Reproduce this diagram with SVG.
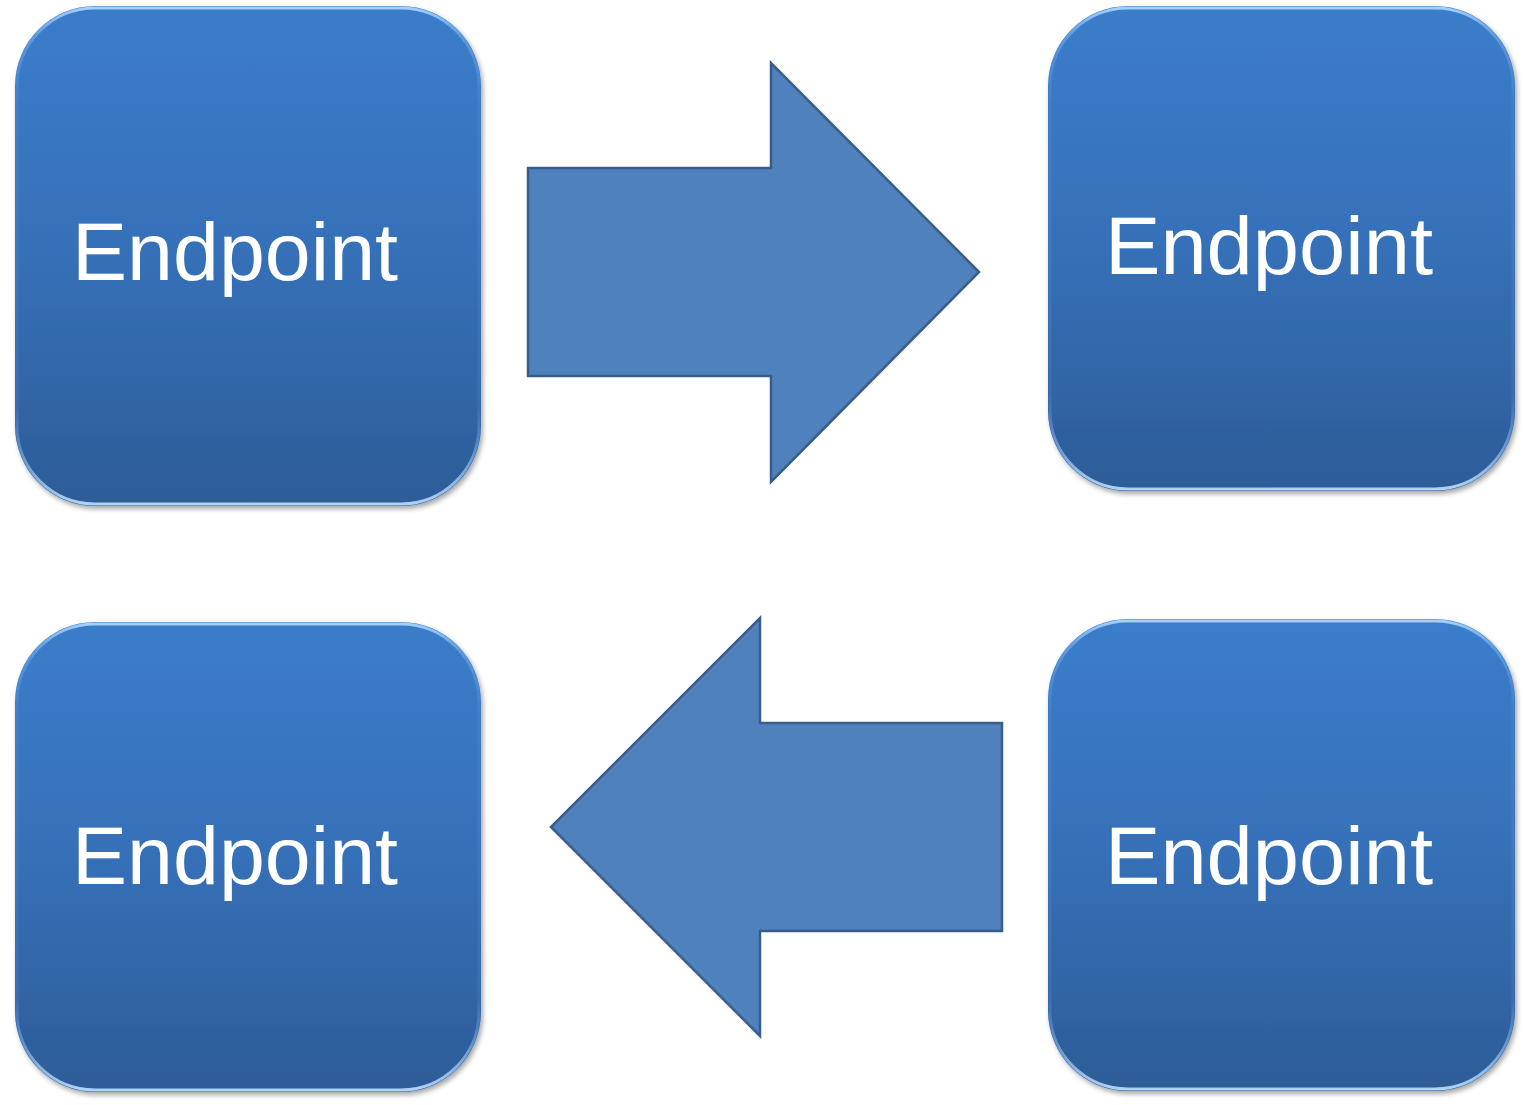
<svg xmlns="http://www.w3.org/2000/svg" width="1524" height="1105" viewBox="0 0 1524 1105">
  <defs>
    <linearGradient id="boxFill" x1="0" y1="0" x2="0" y2="1">
      <stop offset="0" stop-color="#3B7DCB"/>
      <stop offset="0.5" stop-color="#3670B8"/>
      <stop offset="1" stop-color="#2D5C97"/>
    </linearGradient>
    <linearGradient id="bevel" x1="0" y1="0" x2="0" y2="1">
      <stop offset="0" stop-color="#A8D4FF" stop-opacity="0.95"/>
      <stop offset="0.06" stop-color="#7FB6F2" stop-opacity="0.5"/>
      <stop offset="0.2" stop-color="#6AA4E8" stop-opacity="0.15"/>
      <stop offset="0.8" stop-color="#6AA4E8" stop-opacity="0.15"/>
      <stop offset="1" stop-color="#BFE0FF" stop-opacity="0.9"/>
    </linearGradient>
    <filter id="shadow" x="-5%" y="-5%" width="112%" height="112%">
      <feDropShadow dx="2" dy="3" stdDeviation="2.5" flood-color="#000" flood-opacity="0.35"/>
    </filter>
  </defs>
  <style>
    .box { fill: url(#boxFill); filter: url(#shadow); }
    .bev { fill: none; stroke: url(#bevel); stroke-width: 3; }
    .label { fill: #FFFFFF; font-family: "Liberation Sans", Arial, sans-serif; font-size: 82px; }
    .arrow { fill: #4F81BD; stroke: #385D8A; stroke-width: 2.5; stroke-linejoin: miter; }
  </style>
  <rect width="1524" height="1105" fill="#FFFFFF"/>

  <g id="node-top-left">
    <rect class="box" x="15" y="6" width="466" height="500" rx="80" ry="80"/>
    <rect class="bev" x="17" y="8" width="462" height="496" rx="78" ry="78"/>
    <text class="label" x="72" y="280" textLength="326" lengthAdjust="spacingAndGlyphs">Endpoint</text>
  </g>

  <g id="node-top-right">
    <rect class="box" x="1048" y="6" width="467" height="485" rx="80" ry="80"/>
    <rect class="bev" x="1050" y="8" width="463" height="481" rx="78" ry="78"/>
    <text class="label" x="1105" y="274" textLength="328" lengthAdjust="spacingAndGlyphs">Endpoint</text>
  </g>

  <g id="node-bottom-left">
    <rect class="box" x="15" y="622" width="466" height="470" rx="80" ry="80"/>
    <rect class="bev" x="17" y="624" width="462" height="466" rx="78" ry="78"/>
    <text class="label" x="72" y="884" textLength="326" lengthAdjust="spacingAndGlyphs">Endpoint</text>
  </g>

  <g id="node-bottom-right">
    <rect class="box" x="1048" y="619" width="467" height="472" rx="80" ry="80"/>
    <rect class="bev" x="1050" y="621" width="463" height="468" rx="78" ry="78"/>
    <text class="label" x="1105" y="884" textLength="328" lengthAdjust="spacingAndGlyphs">Endpoint</text>
  </g>

  <g id="connectors">
    <path id="arrow-right" class="arrow" d="M528,168 L771,168 L771,63 L979,272 L771,482 L771,376 L528,376 Z"/>
    <path id="arrow-left" class="arrow" d="M1002,723 L760,723 L760,618 L551,827 L760,1036 L760,931 L1002,931 Z"/>
  </g>
</svg>
